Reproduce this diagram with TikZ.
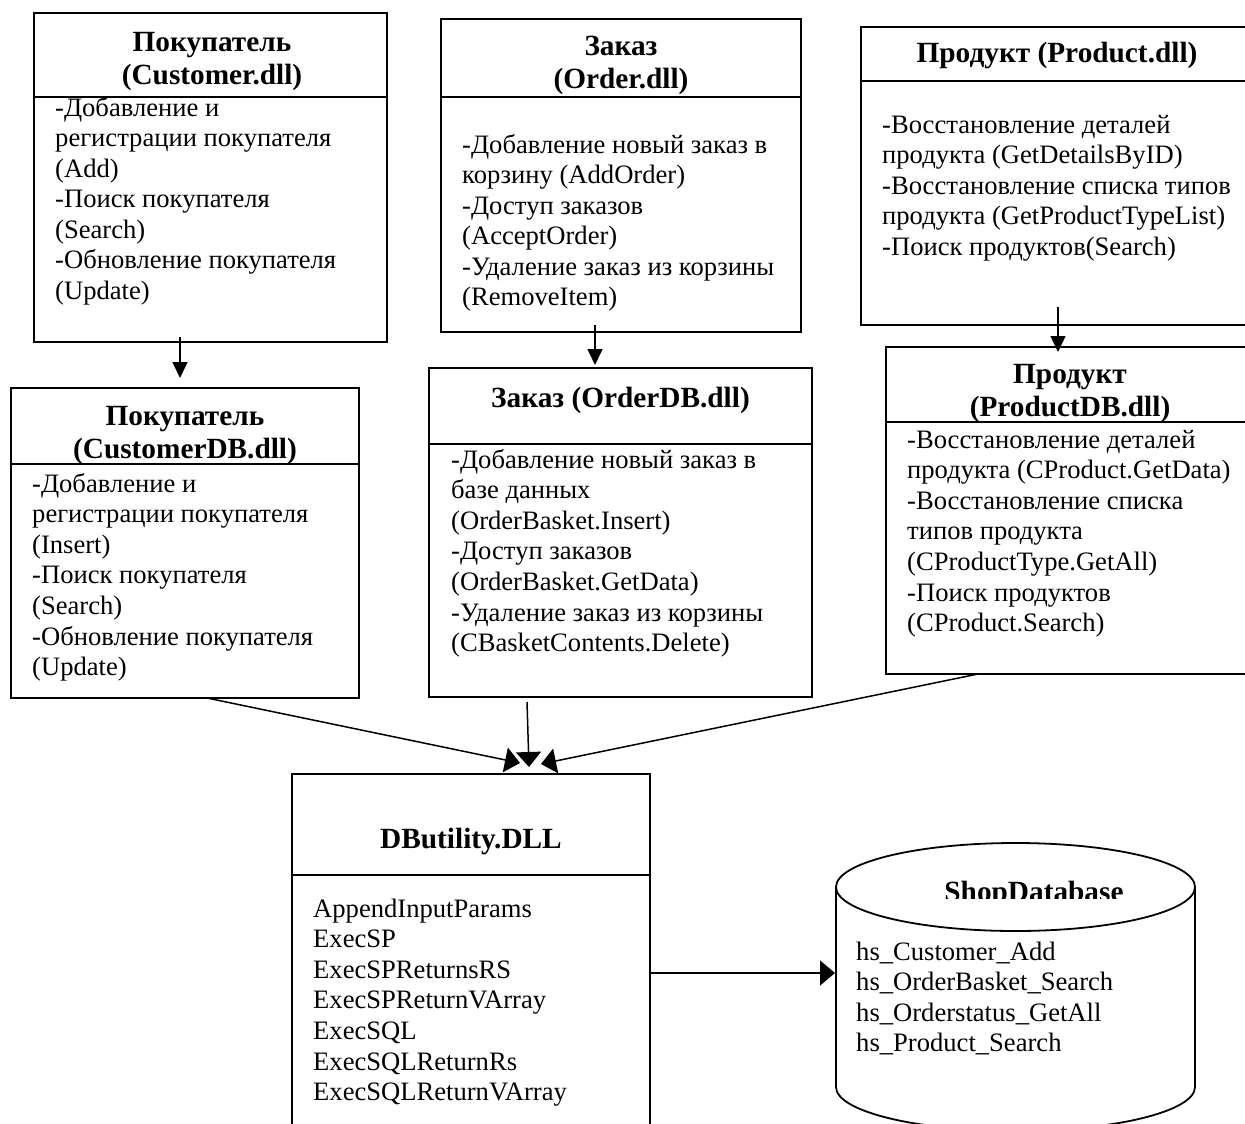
\documentclass[tikz,border=0pt]{standalone}
\usepackage{fontspec}
\setmainfont{Liberation Serif}
\usetikzlibrary{arrows.meta}

% multi-line cell contents; the baseline is the first line's baseline
\newcommand{\bodylines}[1]{\begin{tabular}[t]{@{}l@{}}#1\end{tabular}}
\newcommand{\headlines}[1]{\begin{tabular}[t]{@{}c@{}}#1\end{tabular}}

\tikzset{
  x=1pt, y=1pt,
  box/.style={draw, line width=2pt, inner sep=0pt, outer sep=0pt, anchor=north west},
  divider/.style={line width=1.5pt},
  body/.style={anchor=base west, inner sep=0pt, font=\fontsize{26.6pt}{30.6pt}\selectfont},
  head/.style={anchor=base, inner sep=0pt, font=\fontsize{29.3pt}{33pt}\selectfont\bfseries},
  sarr/.style={line width=1.5pt, -{Triangle[length=16pt,width=15pt]}},
  barr/.style={line width=1.5pt, -{Triangle[length=15pt,width=25pt]}},
  dbline/.style={line width=1.8pt}
}

\begin{document}
\begin{tikzpicture}
\useasboundingbox (0,0) rectangle (1245,-1124);
\fill[white] (0,0) rectangle (1245,-1124);
\clip (0,0) rectangle (1245,-1124);

% ---------- upper row: business components ----------
\node[box, minimum width=353pt, minimum height=329pt] (b1) at (34,-13) {};
\draw[divider] ([yshift=-84pt]b1.north west) -- ([yshift=-84pt]b1.north east);
\node[head] (b1h) at (212,-52) {\headlines{Покупатель\\ (Customer.dll)}};
\node[body] (b1t) at (55,-116) {\bodylines{-Добавление и\\ регистрации покупателя\\ (Add)\\ -Поиск покупателя\\ (Search)\\ -Обновление покупателя\\ (Update)}};

\node[box, minimum width=360pt, minimum height=313pt] (b3) at (441,-19) {};
\draw[divider] ([yshift=-78pt]b3.north west) -- ([yshift=-78pt]b3.north east);
\node[head] (b3h) at (621,-56) {\headlines{Заказ\\ (Order.dll)}};
\node[body] (b3t) at (462,-153) {\bodylines{-Добавление новый заказ в\\ корзину (AddOrder)\\ -Доступ заказов\\ (AcceptOrder)\\ -Удаление заказ из корзины\\ (RemoveItem)}};

\node[box, minimum width=392pt, minimum height=298pt] (b5) at (861,-27) {};
\draw[divider] ([yshift=-54pt]b5.north west) -- ([yshift=-54pt]b5.north east);
\node[head] (b5h) at (1057,-63) {Продукт (Product.dll)};
\node[body] (b5t) at (882,-133) {\bodylines{-Восстановление деталей\\ продукта (GetDetailsByID)\\ -Восстановление списка типов\\ продукта (GetProductTypeList)\\ -Поиск продуктов(Search)}};

% ---------- middle row: data access components ----------
\node[box, minimum width=348pt, minimum height=310pt] (b2) at (11,-388) {};
\draw[divider] ([yshift=-76pt]b2.north west) -- ([yshift=-76pt]b2.north east);
\node[head] (b2h) at (185,-425) {\headlines{Покупатель\\ (CustomerDB.dll)}};
\node[body] (b2t) at (32,-492) {\bodylines{-Добавление и\\ регистрации покупателя\\ (Insert)\\ -Поиск покупателя\\ (Search)\\ -Обновление покупателя\\ (Update)}};

\node[box, minimum width=383pt, minimum height=329pt] (b4) at (429,-368) {};
\draw[divider] ([yshift=-76pt]b4.north west) -- ([yshift=-76pt]b4.north east);
\node[head] (b4h) at (620.5,-407) {Заказ (OrderDB.dll)};
\node[body] (b4t) at (451,-468) {\bodylines{-Добавление новый заказ в\\ базе данных\\ (OrderBasket.Insert)\\ -Доступ заказов\\ (OrderBasket.GetData)\\ -Удаление заказ из корзины\\ (CBasketContents.Delete)}};

\node[box, minimum width=368pt, minimum height=327pt] (b6) at (886,-347) {};
\draw[divider] ([yshift=-75pt]b6.north west) -- ([yshift=-75pt]b6.north east);
\node[head] (b6h) at (1070,-383) {\headlines{Продукт\\ (ProductDB.dll)}};
\node[body] (b6t) at (907,-448) {\bodylines{-Восстановление деталей\\ продукта (CProduct.GetData)\\ -Восстановление списка\\ типов продукта\\ (CProductType.GetAll)\\ -Поиск продуктов\\ (CProduct.Search)}};

% ---------- utility library ----------
\node[box, minimum width=358pt, minimum height=400pt] (b7) at (292,-774) {};
\draw[divider] ([yshift=-101pt]b7.north west) -- ([yshift=-101pt]b7.north east);
\node[head] (b7h) at (471,-848) {DButility.DLL};
\node[body] (b7t) at (313,-917) {\bodylines{AppendInputParams\\ ExecSP\\ ExecSPReturnsRS\\ ExecSPReturnVArray\\ ExecSQL\\ ExecSQLReturnRs\\ ExecSQLReturnVArray}};

% ---------- database cylinder ----------
\draw[dbline] (836,-887) -- (836,-1087)
  arc[start angle=180, end angle=360, x radius=179.5, y radius=44] -- (1195,-887);
\draw[dbline, fill=white] (1015.5,-887) ellipse [x radius=179.5, y radius=44];
\coordinate (dbw) at (835,-973);
\begin{scope}
  \clip (836,-850) rectangle (1195,-898);
  \node[head] (dbh) at (1034,-901) {ShopDatabase};
\end{scope}
\node[body] (dbt) at (856,-960) {\bodylines{hs\_Customer\_Add\\ hs\_OrderBasket\_Search\\ hs\_Orderstatus\_GetAll\\ hs\_Product\_Search}};

% ---------- connectors ----------
\draw[sarr] ([shift={(-30.5pt,5pt)}]b1.south) -- ([shift={(-5pt,10pt)}]b2.north);
\draw[sarr] ([shift={(-26pt,7pt)}]b3.south) -- ([shift={(-25.5pt,3pt)}]b4.north);
\draw[sarr] ([shift={(1pt,18pt)}]b5.south) -- ([shift={(-12pt,-5pt)}]b6.north);

\draw[barr] ([shift={(22pt,0pt)}]b2.south) -- ([shift={(49pt,11pt)}]b7.north);
\draw[barr] ([shift={(-93.5pt,-5pt)}]b4.south) -- ([shift={(58pt,7pt)}]b7.north);
\draw[barr] ([shift={(-92pt,0pt)}]b6.south) -- ([shift={(70pt,10pt)}]b7.north);

\draw[barr] ([yshift=-199pt]b7.north east) -- (dbw);
\end{tikzpicture}
\end{document}
